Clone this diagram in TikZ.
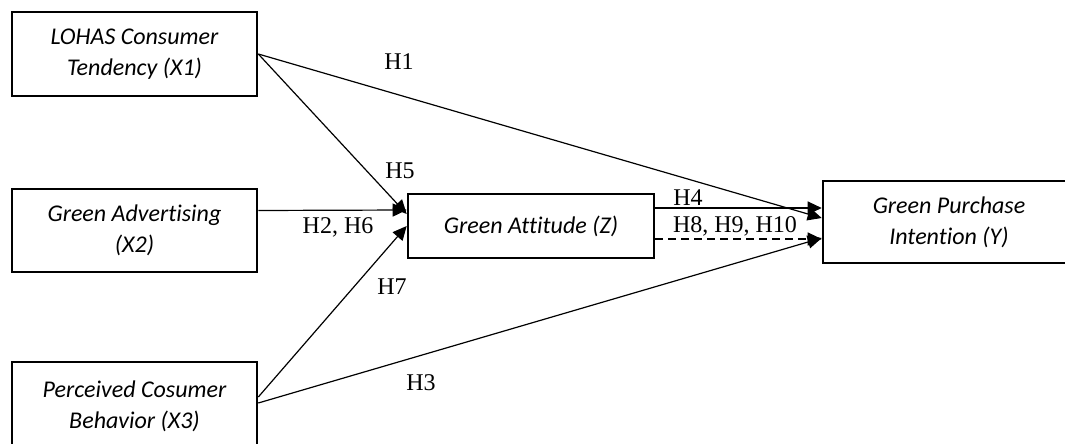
\documentclass[tikz,border=0pt]{standalone}
\usepackage{fontspec}
\setmainfont{Liberation Serif}
\newfontfamily\boxfont[Ligatures=NoCommon]{Carlito}
\usetikzlibrary{arrows.meta}

\begin{document}
\begin{tikzpicture}[x=0.5pt, y=-0.5pt,
	varbox/.style={draw, line width=1.3pt, minimum width=122.5pt, align=center,
		font=\boxfont\itshape\fontsize{12}{15.5}\selectfont},
	link/.style={line width=0.6pt, -{Triangle[length=7pt, width=6.5pt]}},
	hyp/.style={font=\fontsize{12}{14}\selectfont}]
	
	\useasboundingbox (0,0) rectangle (1065,444);
	
	% Variables
	\node[varbox, minimum height=42pt] (x1) at (134.5,54) {LOHAS Consumer\\Tendency (X1)};
	\node[varbox, minimum height=41.5pt] (x2) at (134.5,230.5) {Green Advertising\\(X2)};
	\node[varbox, minimum height=44pt] (x3) at (134.5,406) {Perceived Cosumer\\Behavior (X3)};
	\node[varbox, minimum width=123pt, minimum height=32pt] (z) at (531,226) {Green Attitude (Z)};
	\node[varbox, minimum width=126pt, minimum height=41pt] (y) at (949,222) {Green Purchase\\Intention (Y)};
	
	% Paths to the mediator
	\draw[link] (x1.east) -- ([yshift=6pt]z.west);
	\draw[link] ([yshift=10pt]x2.east) -- ([yshift=8pt]z.west);
	\draw[link] ([yshift=4.5pt]x3.east) -- (z.west);
	
	% Paths to the outcome
	\draw[link] (x1.east) -- ([yshift=2pt]y.west);
	\draw[link] ([yshift=9pt]z.east) -- ([yshift=7pt]y.west);
	\draw[link, dash pattern=on 4pt off 2.5pt] ([yshift=-6.5pt]z.east) -- ([yshift=-8.5pt]y.west);
	\draw[link] ([yshift=1.5pt]x3.east) -- ([yshift=-8pt]y.west);
	
	% Labels
	\node[hyp] (h1) at (399,62) {H1};
	\node[hyp] (h5) at (400,171) {H5};
	\node[hyp] (h26) at (338,227) {H2, H6};
	\node[hyp] (h7) at (392,287) {H7};
	\node[hyp] (h3) at (421,383) {H3};
	\node[hyp] (h4) at (688,198) {H4};
	\node[hyp] (h8) at (735,226) {H8, H9, H10};
	
\end{tikzpicture}
\end{document}
